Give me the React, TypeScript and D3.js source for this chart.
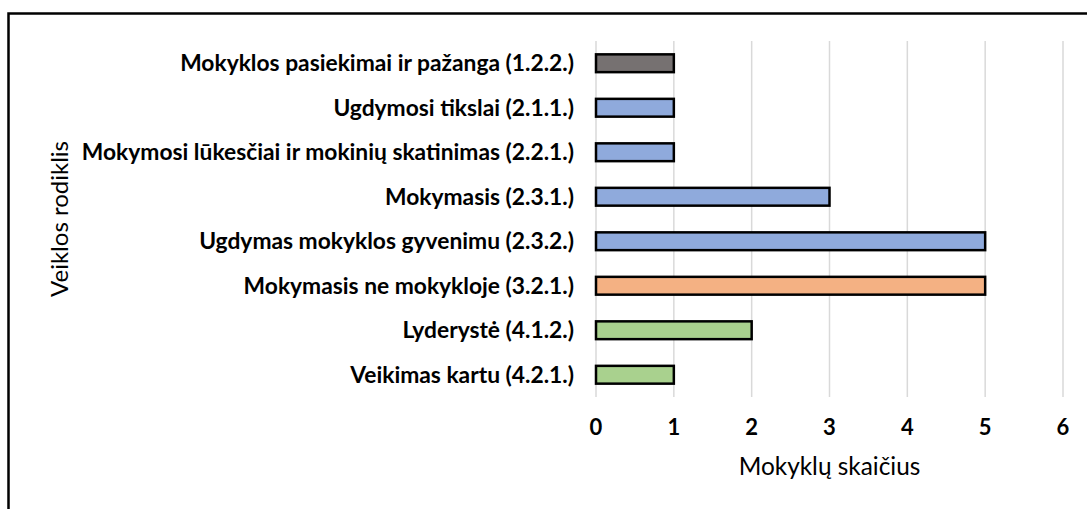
import React from "react";
import * as d3 from "d3";

// chart data (top to bottom)
const categories = [
  "Mokyklos pasiekimai ir pažanga (1.2.2.)",
  "Ugdymosi tikslai (2.1.1.)",
  "Mokymosi lūkesčiai ir mokinių skatinimas (2.2.1.)",
  "Mokymasis (2.3.1.)",
  "Ugdymas mokyklos gyvenimu (2.3.2.)",
  "Mokymasis ne mokykloje (3.2.1.)",
  "Lyderystė (4.1.2.)",
  "Veikimas kartu (4.2.1.)",
];
const values = [1, 1, 1, 3, 5, 5, 2, 1];
const barColors = [
  "#767171",
  "#8faadc",
  "#8faadc",
  "#8faadc",
  "#8faadc",
  "#f4b183",
  "#a9d18e",
  "#a9d18e",
];
const xTicks = [0, 1, 2, 3, 4, 5, 6];
const xTitle = "Mokyklų skaičius";
const yTitle = "Veiklos rodiklis";

export default function App() {
  const width = 1087;
  const height = 509;
  const margin = { top: 41, right: 24, bottom: 112, left: 596 };
  const font = "Lato, 'Open Sans', sans-serif";

  const x = d3
    .scaleLinear()
    .domain([0, 6])
    .range([margin.left, width - margin.right]);

  const y = d3
    .scaleBand()
    .domain(categories)
    .range([margin.top, height - margin.bottom])
    .paddingInner(0.6)
    .paddingOuter(0.3);

  const plotBottom = height - margin.bottom;

  return (
    <svg
      width={width}
      height={height}
      style={{ position: "absolute", left: 0, top: 0, background: "#fff" }}
    >
      <rect
        x={8.5}
        y={13.5}
        width={1200}
        height={600}
        fill="none"
        stroke="#000"
        strokeWidth={2.5}
      />

      {/* gridlines */}
      {xTicks.map((t) => (
        <line
          key={"g" + t}
          x1={x(t)}
          x2={x(t)}
          y1={margin.top}
          y2={plotBottom}
          stroke="#d9d9d9"
          strokeWidth={1.5}
        />
      ))}

      {/* bars */}
      {categories.map((c, i) => (
        <rect
          key={c}
          x={x(0)}
          y={y(c)}
          width={x(values[i]) - x(0)}
          height={y.bandwidth()}
          fill={barColors[i]}
          stroke="#000"
          strokeWidth={2.5}
        />
      ))}

      {/* category labels */}
      {categories.map((c) => (
        <text
          key={"l" + c}
          x={x(0) - 22}
          y={(y(c) as number) + y.bandwidth() / 2}
          dy="0.35em"
          textAnchor="end"
          fontFamily={font}
          fontWeight="bold"
          fontSize={22.8}
          fill="#000"
        >
          {c}
        </text>
      ))}

      {/* x tick labels */}
      {xTicks.map((t) => (
        <text
          key={"t" + t}
          x={x(t)}
          y={435}
          textAnchor="middle"
          fontFamily={font}
          fontWeight="bold"
          fontSize={22}
          fill="#000"
        >
          {t}
        </text>
      ))}

      <text
        x={(x(0) + x(6)) / 2}
        y={475}
        textAnchor="middle"
        fontFamily={font}
        fontSize={24.4}
        fill="#000"
      >
        {xTitle}
      </text>

      <text
        transform={`translate(68,${(margin.top + plotBottom) / 2}) rotate(-90)`}
        textAnchor="middle"
        fontFamily={font}
        fontSize={24}
        fill="#000"
      >
        {yTitle}
      </text>
    </svg>
  );
}
